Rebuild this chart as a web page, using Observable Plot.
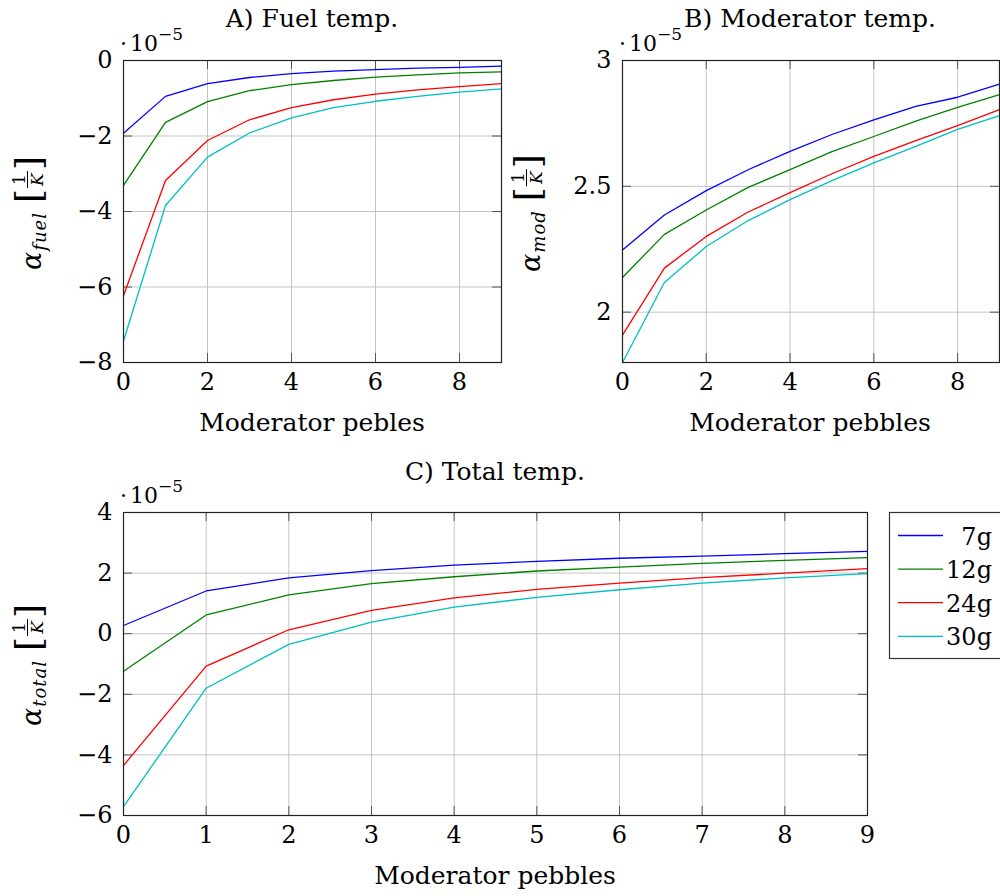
<!DOCTYPE html>
<html>
<head>
<meta charset="utf-8">
<script src="https://cdn.jsdelivr.net/npm/d3@7"></script>
<script src="https://cdn.jsdelivr.net/npm/@observablehq/plot@0.6"></script>
<style>
  html, body { margin: 0; padding: 0; background: #fff; }
  #root { position: relative; width: 1000px; height: 896px; overflow: hidden; }
  #root > svg, #root > figure { position: absolute; margin: 0; }
</style>
</head>
<body>
<div id="root"></div>
<script>
// ---------------- data (values in units of 1e-5 1/K) ----------------
const pebbles = [0, 1, 2, 3, 4, 5, 6, 7, 8, 9];
const series = ["7g", "12g", "24g", "30g"];
const colors = ["#0000ff", "#008000", "#ff0000", "#00bfbf"];

// A) Fuel temperature coefficient
const fuel7g  = [-1.93, -0.95, -0.61, -0.45, -0.35, -0.28, -0.24, -0.20, -0.18, -0.15];
const fuel12g = [-3.31, -1.64, -1.09, -0.80, -0.64, -0.53, -0.44, -0.38, -0.33, -0.30];
const fuel24g = [-6.23, -3.18, -2.12, -1.57, -1.25, -1.04, -0.89, -0.78, -0.69, -0.61];
const fuel30g = [-7.43, -3.84, -2.56, -1.92, -1.52, -1.25, -1.08, -0.95, -0.84, -0.75];

// B) Moderator temperature coefficient
const mod7g  = [2.247, 2.386, 2.483, 2.566, 2.639, 2.706, 2.764, 2.818, 2.854, 2.906];
const mod12g = [2.138, 2.309, 2.406, 2.496, 2.566, 2.638, 2.698, 2.759, 2.814, 2.864];
const mod24g = [1.909, 2.175, 2.301, 2.398, 2.475, 2.550, 2.619, 2.682, 2.741, 2.805];
const mod30g = [1.800, 2.118, 2.261, 2.364, 2.447, 2.523, 2.593, 2.659, 2.726, 2.781];

// C) Total temperature coefficient
const total7g  = [0.27, 1.41, 1.84, 2.08, 2.26, 2.39, 2.49, 2.56, 2.64, 2.72];
const total12g = [-1.24, 0.62, 1.28, 1.65, 1.88, 2.07, 2.20, 2.32, 2.42, 2.51];
const total24g = [-4.35, -1.07, 0.13, 0.77, 1.18, 1.46, 1.67, 1.85, 2.00, 2.15];
const total30g = [-5.71, -1.80, -0.35, 0.38, 0.88, 1.20, 1.45, 1.67, 1.84, 1.98];

// tick values
const xTicksAB = [0, 2, 4, 6, 8];
const xTicksC = [0, 1, 2, 3, 4, 5, 6, 7, 8, 9];
const yTicksA = [-8, -6, -4, -2, 0];
const yTicksB = [2, 2.5, 3];
const yTicksC = [-6, -4, -2, 0, 2, 4];

// ---------------- helpers ----------------
const FONT = "'DejaVu Serif', serif";
const FS = 24;
const FT = 25;
const fmt = d => (d < 0 ? "\u2212" : "") + Math.abs(d);

function rows(arrs) {
  const out = [];
  series.forEach((s, i) => arrs[i].forEach((v, j) => out.push({x: pebbles[j], y: v, s})));
  return out;
}

function panel({data, yDomain, yTicks, xTicks, width, height, mt, mr, mb, ml}) {
  const fh = height - mt - mb, fw = width - ml - mr, tl = 9;
  return Plot.plot({
    width, height,
    marginTop: mt, marginRight: mr, marginBottom: mb, marginLeft: ml,
    style: {fontFamily: FONT, fontSize: FS + "px", background: "transparent", color: "#000", overflow: "visible"},
    x: {domain: [0, 9]},
    y: {domain: yDomain},
    color: {domain: series, range: colors},
    marks: [
      Plot.gridX(xTicks, {stroke: "#c4c4c4", strokeOpacity: 1, strokeWidth: 1}),
      Plot.gridY(yTicks, {stroke: "#c4c4c4", strokeOpacity: 1, strokeWidth: 1}),
      Plot.ruleX(xTicks, {x: d => d, insetTop: fh - tl, stroke: "#555", strokeWidth: 1}),
      Plot.ruleX(xTicks, {x: d => d, insetBottom: fh - tl, stroke: "#555", strokeWidth: 1}),
      Plot.ruleY(yTicks, {y: d => d, insetRight: fw - tl, stroke: "#555", strokeWidth: 1}),
      Plot.ruleY(yTicks, {y: d => d, insetLeft: fw - tl, stroke: "#555", strokeWidth: 1}),
      Plot.line(data, {x: "x", y: "y", stroke: "s", strokeWidth: 1.3}),
      Plot.frame({stroke: "#222", strokeWidth: 1.2}),
      Plot.axisX(xTicks, {tickSize: 0, tickPadding: 10, tickFormat: fmt, label: null, fontFamily: FONT}),
      Plot.axisY(yTicks, {tickSize: 0, tickPadding: 11, tickFormat: fmt, label: null, fontFamily: FONT})
    ]
  });
}

const root = document.getElementById("root");
function place(el, left, top) {
  el.style.left = left + "px";
  el.style.top = top + "px";
  root.appendChild(el);
}

place(panel({
  data: rows([fuel7g, fuel12g, fuel24g, fuel30g]),
  yDomain: [-8, 0], yTicks: yTicksA, xTicks: xTicksAB,
  width: 520, height: 445, mt: 60, mr: 19, mb: 83, ml: 123
}), 0, 0);

place(panel({
  data: rows([mod7g, mod12g, mod24g, mod30g]),
  yDomain: [1.8, 3], yTicks: yTicksB, xTicks: xTicksAB,
  width: 500, height: 445, mt: 60, mr: 1, mb: 83, ml: 122
}), 500, 0);

place(panel({
  data: rows([total7g, total12g, total24g, total30g]),
  yDomain: [-6, 4], yTicks: yTicksC, xTicks: xTicksC,
  width: 1000, height: 446, mt: 62, mr: 133, mb: 81, ml: 123
}), 0, 450);

// ---------------- overlay texts ----------------
const svg = d3.select(root).append("svg")
  .attr("width", 1000).attr("height", 896)
  .style("left", "0px").style("top", "0px")
  .style("pointer-events", "none")
  .style("font-family", FONT)
  .attr("font-family", FONT).attr("fill", "#000");

function txt(x, y, s, anchor = "middle", size = FT) {
  return svg.append("text").attr("x", x).attr("y", y).attr("text-anchor", anchor)
    .attr("font-size", size).text(s);
}

txt(312, 27, "A) Fuel temp.");
txt(810, 27, "B) Moderator temp.");
txt(495, 480, "C) Total temp.");
txt(312, 431, "Moderator pebles");
txt(810, 431, "Moderator pebbles");
txt(495, 884, "Moderator pebbles");

function expo(x, y) {
  const t = svg.append("text").attr("x", x).attr("y", y).attr("font-size", 22);
  t.append("tspan").text("\u00b7");
  t.append("tspan").attr("dx", 3).text("10");
  t.append("tspan").attr("font-size", 17).attr("dy", -11).text("\u22125");
}
expo(120, 51);
expo(619, 51);
expo(120, 503);

function ylab(bx, cy, sub) {
  const g = svg.append("g").attr("transform", `translate(${bx},${cy}) rotate(-90)`);
  const inner = g.append("g");
  let x = 0;
  const a = inner.append("text").attr("x", x).attr("y", 0).attr("font-size", 27)
    .attr("font-style", "italic").text("\u03b1");
  x += a.node().getComputedTextLength() + 1;
  const s = inner.append("text").attr("x", x).attr("y", 5).attr("font-size", 18)
    .attr("font-style", "italic").attr("letter-spacing", "1px").text(sub);
  x += s.node().getComputedTextLength() + 9;
  const b1 = inner.append("text").attr("x", x).attr("y", 0).attr("font-size", 36).text("[");
  x += b1.node().getComputedTextLength() + 1;
  const fw = 17;
  inner.append("text").attr("x", x + fw / 2).attr("y", -16).attr("text-anchor", "middle")
    .attr("font-size", 17).text("1");
  inner.append("line").attr("x1", x).attr("x2", x + fw).attr("y1", -13.5).attr("y2", -13.5)
    .attr("stroke", "#000").attr("stroke-width", 1);
  inner.append("text").attr("x", x + fw / 2).attr("y", 1.5).attr("text-anchor", "middle")
    .attr("font-size", 17).attr("font-style", "italic").text("K");
  x += fw + 1;
  const b2 = inner.append("text").attr("x", x).attr("y", 0).attr("font-size", 36).text("]");
  x += b2.node().getComputedTextLength();
  inner.attr("transform", `translate(${-x / 2},0)`);
}
ylab(41, 213, "fuel");
ylab(540, 213, "mod");
ylab(41, 665, "total");

// ---------------- legend ----------------
const lg = svg.append("g");
lg.append("rect").attr("x", 889.5).attr("y", 512.5).attr("width", 115).attr("height", 146)
  .attr("fill", "#fff").attr("stroke", "#333").attr("stroke-width", 1.2);
series.forEach((s, i) => {
  const y = 535.5 + i * 33.6;
  lg.append("line").attr("x1", 898).attr("x2", 943).attr("y1", y).attr("y2", y)
    .attr("stroke", colors[i]).attr("stroke-width", 1.3);
  lg.append("text").attr("x", 992).attr("y", y + 9).attr("text-anchor", "end")
    .attr("font-size", FS).text(s);
});
</script>
</body>
</html>
